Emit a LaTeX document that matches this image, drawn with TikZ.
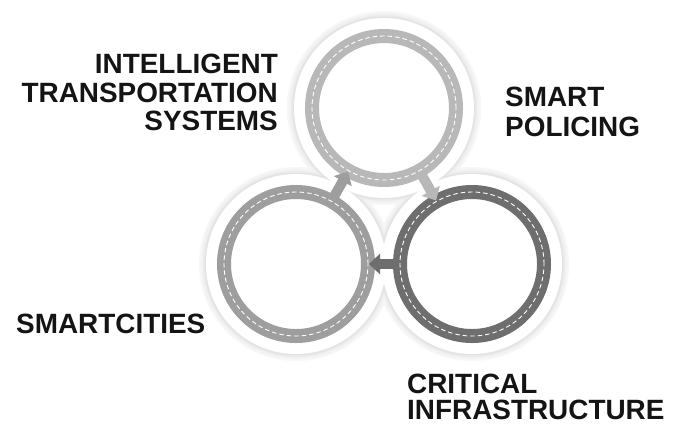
\documentclass[tikz,border=0pt]{standalone}
\usepackage{fontspec}
\setmainfont{Liberation Sans}
\usetikzlibrary{arrows.meta}
\definecolor{ringA}{HTML}{B8B8B8}
\definecolor{ringB}{HTML}{9E9E9E}
\definecolor{ringC}{HTML}{6E6E6E}
\begin{document}
\begin{tikzpicture}[x=1bp,y=-1bp,
  ring/.style={circle, draw=#1, line width=14bp, minimum size=144bp, inner sep=0pt,
    postaction={draw=white, line width=0.9bp, dash pattern=on 4.5bp off 3bp}},
  link/.style={draw=#1, line width=10bp, -{Triangle[width=20bp,length=11bp]},
    shorten <=-5bp, shorten >=-6bp},
  txt/.style={font=\bfseries\fontsize{28}{#1}\selectfont, text=black!92, inner sep=0pt},
  txt/.default=28.5]
\useasboundingbox (0,0) rectangle (675,426);
\fill[white] (0,0) rectangle (675,426);
\coordinate (cT) at (384,108);
\coordinate (cL) at (296,264);
\coordinate (cR) at (472,264);
% halo with soft shadow
\foreach \r/\c in {97/black!3, 95/black!5, 93/black!8, 91.5/black!11} {
  \fill[\c] (cT) circle[radius=\r bp] (cL) circle[radius=\r bp] (cR) circle[radius=\r bp];
}
\fill[white] (cT) circle[radius=90bp] (cL) circle[radius=90bp] (cR) circle[radius=90bp];
% rings
\node[ring=ringA] (top) at (cT) {};
\node[ring=ringB] (left) at (cL) {};
\node[ring=ringC] (right) at (cR) {};
% arrows
\draw[link=ringB] (left) -- (top);
\draw[link=ringA] (top) -- (right);
\draw[link=ringC] (right) -- (left);
% labels
\node[txt, anchor=north east, align=right] (its) at (278,54) {INTELLIGENT\\TRANSPORTATION\\SYSTEMS};
\node[txt=30, anchor=north west, align=left] (sp) at (505,87) {SMART\\POLICING};
\node[txt, anchor=north west] (sc) at (16,314) {SMARTCITIES};
\node[txt=25.5, anchor=north west, align=left] (ci) at (407,374) {CRITICAL\\INFRASTRUCTURE};
\end{tikzpicture}
\end{document}
